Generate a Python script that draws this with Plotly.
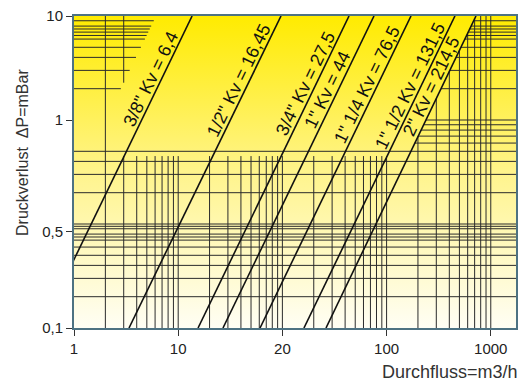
import numpy as np
import plotly.graph_objects as go

# ---------------- data ----------------
kv_labels = ['3/8" Kv = 6,4', '1/2" Kv = 16,45', '3/4" Kv = 27,5', '1" Kv = 44',
             '1" 1/4 Kv = 76,5', '1" 1/2 Kv = 131,5', '2" Kv = 214,5']
dp_low = [0.01, 0.01, 0.01, 0.01, 0.01, 0.01, 0.01]
q_low = [0.48, 3.37, 15.5, 26.9, 61.0, 161.0, 262.0]
dp_high = [10, 10, 10, 10, 10, 10, 10]
q_high = [13.6, 97.0, 436.0, 757.0, 1715.0, 4530.0, 7210.0]

x_tickvals = [1, 10, 100, 1000, 10000]
x_ticktext = ["1", "10", "20", "100", "1000"]
y_tickvals = [10, 1, 0.085, 0.01]
y_ticktext = ["10", "1", "0,5", "0,1"]

grid_x = [2, 3, 4, 5, 6, 7, 8, 9, 10,
          20, 30, 40, 50, 60, 70, 80, 90, 100,
          200, 300, 400, 500, 600, 700, 800, 900, 1000,
          2000, 3000, 4000, 5000, 6000, 7000, 8000, 9000, 10000]
grid_y_upper = [9, 8, 7.5, 7, 6.5, 6, 5, 4, 3, 2]
grid_y_mid = [1, 0.9, 0.8, 0.7, 0.6]
grid_y_lower = [0.5, 0.4, 0.3, 0.2, 0.1, 0.095, 0.09, 0.08, 0.075, 0.07,
                0.06, 0.05, 0.04, 0.03, 0.02]

# ---------------- layout constants ----------------
X_RANGE = [0, 4.242]
Y_RANGE = [-2, 1]
XMIN, XMAX = 10 ** X_RANGE[0], 10 ** X_RANGE[1]
YMIN, YMAX = 10 ** Y_RANGE[0], 10 ** Y_RANGE[1]
MARGIN = dict(l=74, r=10, t=16, b=53)
W, H = 526, 381
PW = W - MARGIN['l'] - MARGIN['r']
PH = H - MARGIN['t'] - MARGIN['b']
LOWER_GRID_TOP = 0.45
LEFT_GRID_FACTOR = 0.451
label_dp = [2.49, 2.43, 2.23, 1.95, 2.18, 2.13, 2.13]
label_xshift = -11
FONT = "Liberation Sans, Arial, sans-serif"
GRID_COLOR = "#2b2b2b"


def line_q(i, dp):
    lq0, lq1 = np.log10(q_low[i]), np.log10(q_high[i])
    ld0, ld1 = np.log10(dp_low[i]), np.log10(dp_high[i])
    return 10 ** (lq0 + (np.log10(dp) - ld0) * (lq1 - lq0) / (ld1 - ld0))


def line_dp(i, q):
    lq0, lq1 = np.log10(q_low[i]), np.log10(q_high[i])
    ld0, ld1 = np.log10(dp_low[i]), np.log10(dp_high[i])
    return 10 ** (ld0 + (np.log10(q) - lq0) * (ld1 - ld0) / (lq1 - lq0))


fig = go.Figure()

# background gradient
fig.add_trace(go.Scatter(
    x=[XMIN, XMAX, XMAX, XMIN, XMIN], y=[YMIN, YMIN, YMAX, YMAX, YMIN],
    mode="lines", line=dict(width=0), fill="toself",
    fillgradient=dict(type="vertical",
                      colorscale=[[0, "#FFFEF4"], [0.5, "#FFF48C"], [1, "#FFEB00"]]),
    hoverinfo="skip", showlegend=False))

# grid segments
gx, gy = [], []


def seg(x0, y0, x1, y1):
    gx.extend([x0, x1, None])
    gy.extend([y0, y1, None])


last = len(q_low) - 1
first = 0
for yv in grid_y_lower:
    seg(XMIN, yv, XMAX, yv)
for yv in grid_y_upper + grid_y_mid:
    seg(line_q(last, yv), yv, XMAX, yv)
for yv in grid_y_upper:
    seg(XMIN, yv, line_q(first, yv) * LEFT_GRID_FACTOR, yv)
for xv in grid_x:
    if xv == 2:
        seg(xv, YMIN, xv, YMAX)
        continue
    start = min(max(line_dp(last, xv), LOWER_GRID_TOP), YMAX)
    seg(xv, YMIN, xv, start)
    if xv == 3:
        seg(xv, line_dp(first, xv / LEFT_GRID_FACTOR), xv, YMAX)

fig.add_trace(go.Scatter(x=gx, y=gy, mode="lines",
                         line=dict(color=GRID_COLOR, width=1),
                         hoverinfo="skip", showlegend=False))

# Kv lines
px_per_dec_x = PW / (X_RANGE[1] - X_RANGE[0])
px_per_dec_y = PH / (Y_RANGE[1] - Y_RANGE[0])
annotations = []
for i, lab in enumerate(kv_labels):
    fig.add_trace(go.Scatter(x=[q_low[i], q_high[i]], y=[dp_low[i], dp_high[i]],
                             mode="lines", line=dict(color="#111111", width=1.6),
                             name=lab, hoverinfo="name", showlegend=False))
    dxp = (np.log10(q_high[i]) - np.log10(q_low[i])) * px_per_dec_x
    dyp = (np.log10(dp_high[i]) - np.log10(dp_low[i])) * px_per_dec_y
    ang = np.degrees(np.arctan2(dyp, dxp))
    annotations.append(dict(
        x=np.log10(line_q(i, label_dp[i])), y=np.log10(label_dp[i]),
        xref="x", yref="y", text=lab, showarrow=False, textangle=-ang,
        xanchor="center", yanchor="middle", xshift=label_xshift,
        font=dict(family=FONT, size=18, color="#111111")))

annotations.append(dict(
    text="Druckverlust  ΔP=mBar", xref="paper", yref="paper",
    x=(22 - MARGIN['l']) / PW, y=(H - MARGIN['b'] - 153) / PH,
    xanchor="center", yanchor="middle", textangle=-90, showarrow=False,
    font=dict(family=FONT, size=16, color="#333333")))
annotations.append(dict(
    text="Durchfluss=m3/h", xref="paper", yref="paper",
    x=(520 - MARGIN['l']) / PW, y=(H - MARGIN['b'] - 372) / PH,
    xanchor="right", yanchor="middle", showarrow=False,
    font=dict(family=FONT, size=18, color="#333333")))

axis_common = dict(type="log", showgrid=False, zeroline=False, automargin=False,
                   showline=True, linecolor="#4d7282", linewidth=2, mirror=True,
                   ticks="outside", ticklen=6, tickcolor="#333333",
                   tickfont=dict(family=FONT, size=15, color="#222222"))

fig.update_layout(
    width=W, height=H, margin=MARGIN,
    paper_bgcolor="white", plot_bgcolor="white",
    showlegend=False, annotations=annotations,
    xaxis=dict(range=X_RANGE, tickvals=x_tickvals, ticktext=x_ticktext, **axis_common),
    yaxis=dict(range=Y_RANGE, tickvals=y_tickvals, ticktext=y_ticktext, **axis_common),
)

fig.write_html("out.html", config={"displayModeBar": False},
               post_script="document.body.style.margin='0px';document.body.style.overflow='hidden';")
